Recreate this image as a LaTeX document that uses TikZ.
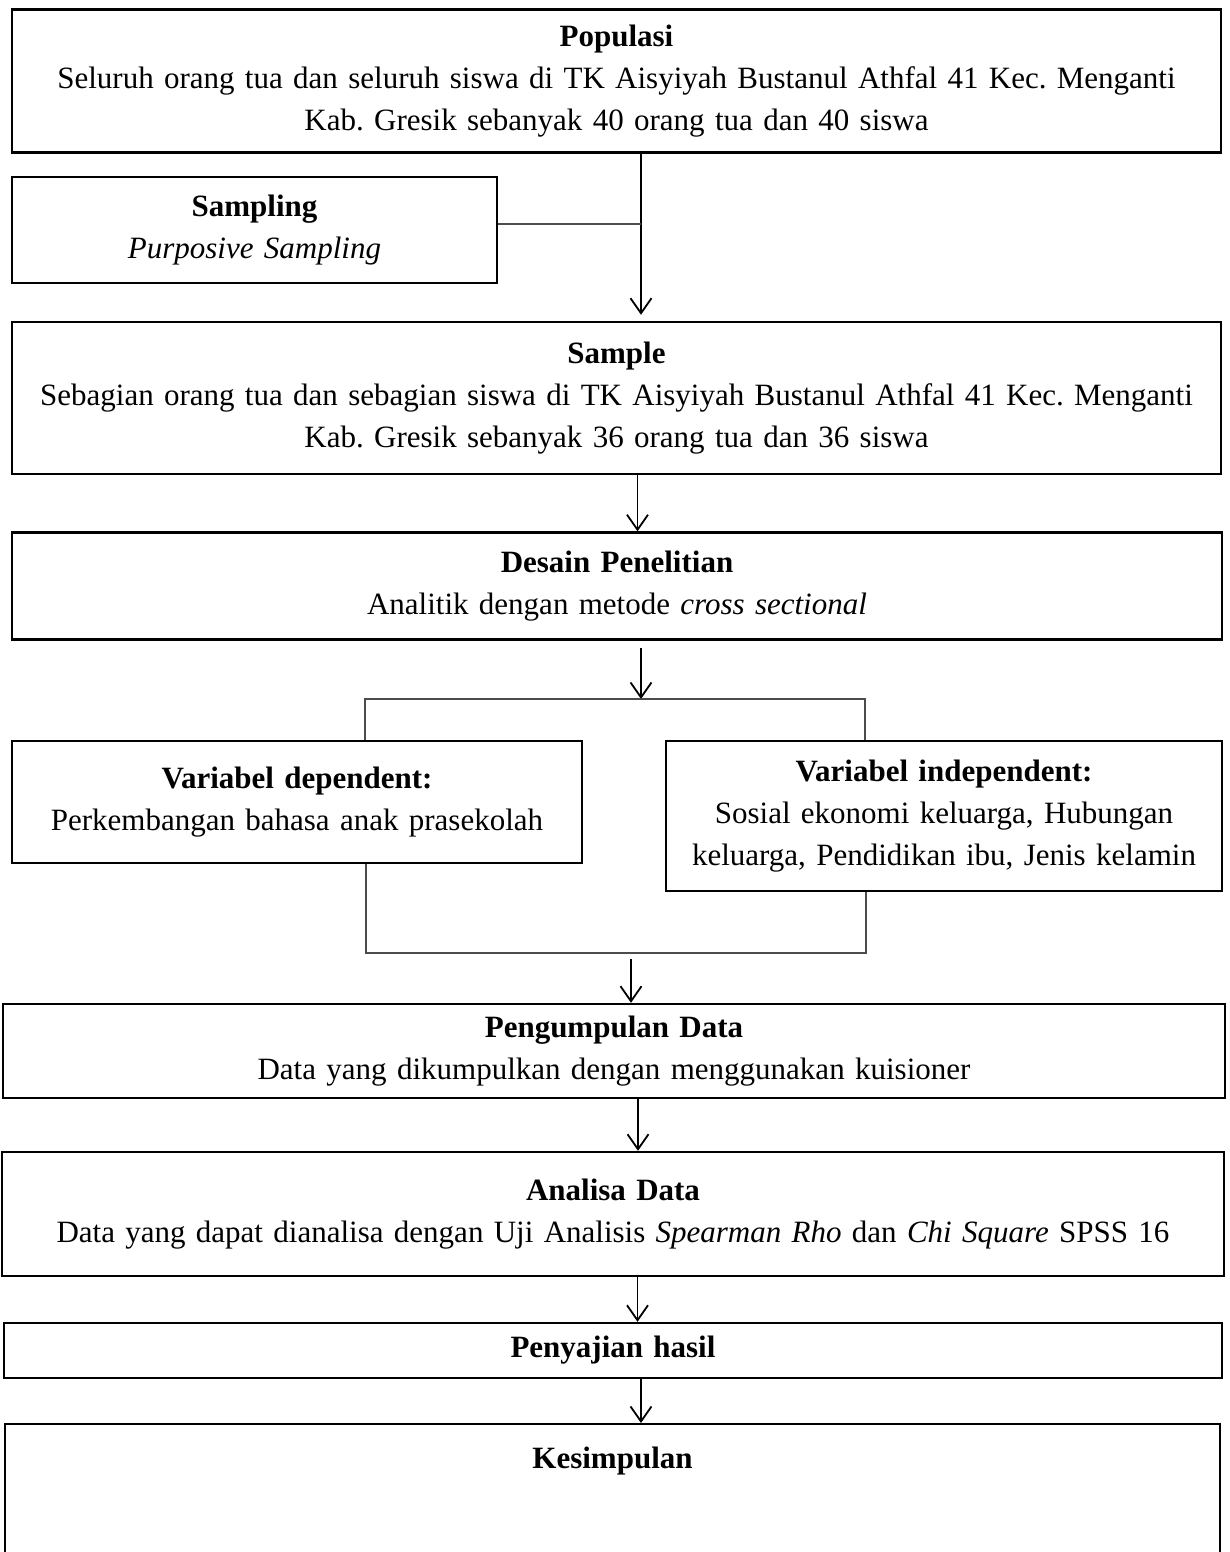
\documentclass[tikz,border=0pt]{standalone}
\usepackage{fontspec}
\setmainfont{Liberation Serif}
\usetikzlibrary{arrows.meta,calc}
\begin{document}
\frenchspacing
\begin{tikzpicture}[x=1pt,y=-1pt,
  box/.style={draw, line width=2.4pt, inner sep=3pt, align=center,
    font={\fontsize{31}{42}\selectfont}},
  arr/.style={line width=1.8pt, -{Straight Barb[length=15pt,width=21pt,line width=1.8pt]}},
  thinline/.style={line width=1.3pt, draw=black!70}]
\useasboundingbox (0,0) rectangle (1229,1552);
\clip (0,0) rectangle (1229,1552);

\node[box, text width=1203pt, minimum height=143pt] (pop) at (616.5,81)
  {\textbf{Populasi}\\Seluruh orang tua dan seluruh siswa di TK Aisyiyah Bustanul Athfal 41 Kec. Menganti\\Kab. Gresik sebanyak 40 orang tua dan 40 siswa};

\node[box, text width=479pt, minimum height=106pt] (samp) at (254.5,230)
  {\textbf{Sampling}\\\textit{Purposive Sampling}};

\node[box, text width=1203pt, minimum height=152pt] (sample) at (616.5,398)
  {\textbf{Sample}\\Sebagian orang tua dan sebagian siswa di TK Aisyiyah Bustanul Athfal 41 Kec. Menganti\\Kab. Gresik sebanyak 36 orang tua dan 36 siswa};

\node[box, text width=1204pt, minimum height=107pt] (desain) at (617,586)
  {\textbf{Desain Penelitian}\\Analitik dengan metode \textit{cross sectional}};

\node[box, text width=564pt, minimum height=122pt] (dep) at (297,802)
  {\textbf{Variabel dependent:}\\Perkembangan bahasa anak prasekolah};

\node[box, text width=550pt, minimum height=150pt] (indep) at (944,816)
  {\textbf{Variabel independent:}\\Sosial ekonomi keluarga, Hubungan\\keluarga, Pendidikan ibu, Jenis kelamin};

\node[box, text width=1216pt, minimum height=94pt] (peng) at (614,1051)
  {\textbf{Pengumpulan Data}\\Data yang dikumpulkan dengan menggunakan kuisioner};

\node[box, text width=1216pt, minimum height=124pt] (anal) at (613,1214)
  {\textbf{Analisa Data}\\Data yang dapat dianalisa dengan Uji Analisis \textit{Spearman Rho} dan \textit{Chi Square} SPSS 16};

\node[box, text width=1212pt, minimum height=55pt] (peny) at (613,1350.5)
  {\textbf{Penyajian hasil}};

\node[box, text width=1209pt, anchor=north, text height=41pt, text depth=130pt] (kes) at (612.5,1423)
  {\textbf{Kesimpulan}};

% connectors
\coordinate (j1) at (641,224);
\draw[arr, shorten >=6pt] (pop.south -| j1) -- (sample.north -| j1);
\draw[thinline] ($(samp.east)+(0,-6)$) -- (j1);

\draw[arr] (sample.south -| 637.5,0) -- (desain.north -| 637.5,0);

\coordinate (ftop) at (641,699);
\draw[arr] ($(desain.south -| ftop)+(0,7)$) -- (ftop);
\coordinate (fl) at (365,699);
\coordinate (fr) at (865,699);
\draw[thinline] (dep.north -| fl) -- (fl) -- (fr) -- (indep.north -| fr);

\coordinate (bl) at (366,953);
\coordinate (br) at (866,953);
\draw[thinline] (dep.south -| bl) -- (bl) -- (br) -- (indep.south -| br);
\coordinate (bstart) at (631,959);
\draw[arr] (bstart) -- (peng.north -| bstart);

\draw[arr] (peng.south -| 638,0) -- (anal.north -| 638,0);
\draw[arr] (anal.south -| 637.5,0) -- (peny.north -| 637.5,0);
\draw[arr] (peny.south -| 641,0) -- (kes.north -| 641,0);
\end{tikzpicture}
\end{document}
